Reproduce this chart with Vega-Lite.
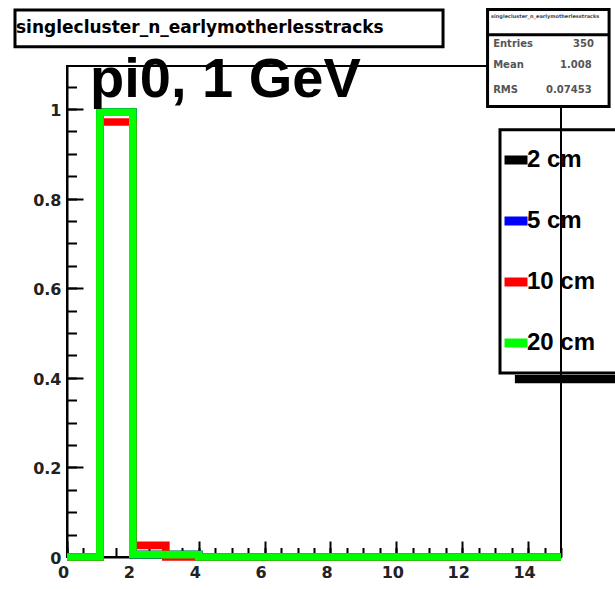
{
  "$schema": "https://vega.github.io/schema/vega-lite/v6.json",
  "width": 494,
  "height": 491,
  "autosize": {"type": "none"},
  "padding": {"left": 67, "top": 66, "right": 54, "bottom": 32},
  "background": "white",
  "view": {"stroke": "black", "strokeWidth": 2, "fill": null},
  "resolve": {"axis": {"x": "independent", "y": "independent"}},
  "layer": [
    {
      "data": {"values": [
        {"series": "2 cm", "x": 0, "v": 0}, {"series": "2 cm", "x": 1, "v": 0.993}, {"series": "2 cm", "x": 2, "v": 0.0055}, {"series": "2 cm", "x": 3, "v": 0.0055},
        {"series": "2 cm", "x": 4, "v": 0}, {"series": "2 cm", "x": 5, "v": 0}, {"series": "2 cm", "x": 6, "v": 0}, {"series": "2 cm", "x": 7, "v": 0},
        {"series": "2 cm", "x": 8, "v": 0}, {"series": "2 cm", "x": 9, "v": 0}, {"series": "2 cm", "x": 10, "v": 0}, {"series": "2 cm", "x": 11, "v": 0},
        {"series": "2 cm", "x": 12, "v": 0}, {"series": "2 cm", "x": 13, "v": 0}, {"series": "2 cm", "x": 14, "v": 0}, {"series": "2 cm", "x": 15, "v": 0},
        {"series": "5 cm", "x": 0, "v": 0}, {"series": "5 cm", "x": 1, "v": 0.993}, {"series": "5 cm", "x": 2, "v": 0.0055}, {"series": "5 cm", "x": 3, "v": 0.0055},
        {"series": "5 cm", "x": 4, "v": 0}, {"series": "5 cm", "x": 5, "v": 0}, {"series": "5 cm", "x": 6, "v": 0}, {"series": "5 cm", "x": 7, "v": 0},
        {"series": "5 cm", "x": 8, "v": 0}, {"series": "5 cm", "x": 9, "v": 0}, {"series": "5 cm", "x": 10, "v": 0}, {"series": "5 cm", "x": 11, "v": 0},
        {"series": "5 cm", "x": 12, "v": 0}, {"series": "5 cm", "x": 13, "v": 0}, {"series": "5 cm", "x": 14, "v": 0}, {"series": "5 cm", "x": 15, "v": 0},
        {"series": "10 cm", "x": 0, "v": 0}, {"series": "10 cm", "x": 1, "v": 0.971}, {"series": "10 cm", "x": 2, "v": 0.026}, {"series": "10 cm", "x": 3, "v": 0},
        {"series": "10 cm", "x": 4, "v": 0}, {"series": "10 cm", "x": 5, "v": 0}, {"series": "10 cm", "x": 6, "v": 0}, {"series": "10 cm", "x": 7, "v": 0},
        {"series": "10 cm", "x": 8, "v": 0}, {"series": "10 cm", "x": 9, "v": 0}, {"series": "10 cm", "x": 10, "v": 0}, {"series": "10 cm", "x": 11, "v": 0},
        {"series": "10 cm", "x": 12, "v": 0}, {"series": "10 cm", "x": 13, "v": 0}, {"series": "10 cm", "x": 14, "v": 0}, {"series": "10 cm", "x": 15, "v": 0},
        {"series": "20 cm", "x": 0, "v": 0}, {"series": "20 cm", "x": 1, "v": 0.993}, {"series": "20 cm", "x": 2, "v": 0.0055}, {"series": "20 cm", "x": 3, "v": 0.0055},
        {"series": "20 cm", "x": 4, "v": 0}, {"series": "20 cm", "x": 5, "v": 0}, {"series": "20 cm", "x": 6, "v": 0}, {"series": "20 cm", "x": 7, "v": 0},
        {"series": "20 cm", "x": 8, "v": 0}, {"series": "20 cm", "x": 9, "v": 0}, {"series": "20 cm", "x": 10, "v": 0}, {"series": "20 cm", "x": 11, "v": 0},
        {"series": "20 cm", "x": 12, "v": 0}, {"series": "20 cm", "x": 13, "v": 0}, {"series": "20 cm", "x": 14, "v": 0}, {"series": "20 cm", "x": 15, "v": 0}
      ]},
      "mark": {"type": "line", "interpolate": "step-after", "strokeWidth": 7.7, "strokeCap": "butt", "strokeJoin": "miter", "clip": false},
      "encoding": {
        "x": {"field": "x", "type": "quantitative",
          "scale": {"domain": [0, 15], "nice": false, "zero": false},
          "axis": {"orient": "bottom", "values": [0,0.5,1,1.5,2,2.5,3,3.5,4,4.5,5,5.5,6,6.5,7,7.5,8,8.5,9,9.5,10,10.5,11,11.5,12,12.5,13,13.5,14,14.5,15],
            "labels": false, "domain": false, "grid": false, "title": null, "tickSize": -9.5, "tickWidth": 2, "tickColor": "black"}},
        "y": {"field": "v", "type": "quantitative",
          "scale": {"domain": [0, 1.096], "nice": false, "zero": false},
          "axis": {"orient": "left", "values": [0,0.05,0.1,0.15,0.2,0.25,0.3,0.35,0.4,0.45,0.5,0.55,0.6,0.65,0.7,0.75,0.8,0.85,0.9,0.95,1,1.05],
            "labels": false, "domain": false, "grid": false, "title": null, "tickSize": -9.5, "tickWidth": 2, "tickColor": "black"}},
        "color": {"field": "series", "type": "nominal",
          "scale": {"domain": ["2 cm", "5 cm", "10 cm", "20 cm"], "range": ["#000000", "#0000ff", "#ff0000", "#00ff00"]},
          "legend": {"orient": "none", "legendX": 433, "legendY": 64, "title": null,
            "symbolType": "stroke", "symbolStrokeWidth": 9, "symbolSize": 529,
            "labelFont": "Liberation Sans", "labelFontWeight": "bold", "labelFontSize": 24, "labelColor": "black",
            "padding": 14, "symbolOffset": -14, "labelOffset": -5, "rowPadding": 25,
            "labelLimit": 400}}
      }
    },
    {
      "data": {"values": [{}]},
      "mark": {"type": "rect", "fill": "black", "clip": false},
      "encoding": {
        "x": {"datum": 13.6, "type": "quantitative",
          "axis": {"orient": "bottom", "values": [0,2,4,6,8,10,12,14], "tickSize": -16, "tickWidth": 2, "tickColor": "black",
            "domain": true, "domainColor": "black", "domainWidth": 2, "grid": false, "title": null,
            "labelFont": "DejaVu Sans", "labelFontWeight": "bold", "labelFontSize": 16, "labelColor": "#222",
            "labelPadding": 23, "labelOffset": -4, "labelFlush": false, "labelBound": false, "labelOverlap": false}},
        "x2": {"datum": 17},
        "y": {"datum": 0.4063, "type": "quantitative",
          "axis": {"orient": "left", "values": [0,0.2,0.4,0.6,0.8,1], "format": "~g", "tickSize": -16, "tickWidth": 2, "tickColor": "black",
            "domain": true, "domainColor": "black", "domainWidth": 2, "grid": false, "title": null,
            "labelFont": "DejaVu Sans", "labelFontWeight": "bold", "labelFontSize": 16, "labelColor": "#222",
            "labelPadding": 22, "labelOffset": 1.5, "labelFlush": false, "labelBound": false, "labelOverlap": false}},
        "y2": {"datum": 0.3877}
      }
    },
    {
      "data": {"values": [{}]},
      "mark": {"type": "rect", "filled": false, "stroke": "black", "strokeWidth": 3, "clip": false},
      "encoding": {
        "x": {"datum": 13.148, "type": "quantitative", "axis": null}, "x2": {"datum": 17},
        "y": {"datum": 0.9538, "type": "quantitative", "axis": null}, "y2": {"datum": 0.4107}
      }
    },
    {
      "data": {"values": [{}]},
      "mark": {"type": "rect", "fill": "white", "stroke": "black", "strokeWidth": 3, "clip": false},
      "encoding": {
        "x": {"datum": -1.579, "type": "quantitative", "axis": null}, "x2": {"datum": 11.418},
        "y": {"datum": 1.221, "type": "quantitative", "axis": null}, "y2": {"datum": 1.139}
      }
    },
    {
      "data": {"values": [{}]},
      "mark": {"type": "text", "text": "singlecluster_n_earlymotherlesstracks", "font": "DejaVu Sans", "fontWeight": "bold", "fontSize": 17, "align": "left", "baseline": "alphabetic", "color": "black", "clip": false},
      "encoding": {"x": {"datum": -1.549, "type": "quantitative", "axis": null}, "y": {"datum": 1.169, "type": "quantitative", "axis": null}}
    },
    {
      "data": {"values": [{}]},
      "mark": {"type": "rect", "fill": "white", "stroke": "black", "strokeWidth": 3, "clip": false},
      "encoding": {
        "x": {"datum": 12.77, "type": "quantitative", "axis": null}, "x2": {"datum": 16.46},
        "y": {"datum": 1.2221, "type": "quantitative", "axis": null}, "y2": {"datum": 1.0056}
      }
    },
    {
      "data": {"values": [{}]},
      "mark": {"type": "rule", "stroke": "black", "strokeWidth": 3, "clip": false},
      "encoding": {
        "x": {"datum": 12.77, "type": "quantitative", "axis": null}, "x2": {"datum": 16.46},
        "y": {"datum": 1.1658, "type": "quantitative", "axis": null}
      }
    },
    {
      "data": {"values": [{}]},
      "mark": {"type": "text", "text": "singlecluster_n_earlymotherlesstracks", "font": "DejaVu Sans", "fontWeight": "bold", "fontSize": 5, "align": "center", "baseline": "alphabetic", "color": "#444", "clip": false},
      "encoding": {"x": {"datum": 14.52, "type": "quantitative", "axis": null}, "y": {"datum": 1.203, "type": "quantitative", "axis": null}}
    },
    {
      "data": {"values": [{}]},
      "mark": {"type": "text", "text": "Entries", "font": "DejaVu Sans", "fontWeight": "bold", "fontSize": 10, "align": "left", "baseline": "alphabetic", "color": "#555", "clip": false},
      "encoding": {"x": {"datum": 12.94, "type": "quantitative", "axis": null}, "y": {"datum": 1.1386, "type": "quantitative", "axis": null}}
    },
    {
      "data": {"values": [{}]},
      "mark": {"type": "text", "text": "350", "font": "DejaVu Sans", "fontWeight": "bold", "fontSize": 10, "align": "right", "baseline": "alphabetic", "color": "#555", "clip": false},
      "encoding": {"x": {"datum": 16.0, "type": "quantitative", "axis": null}, "y": {"datum": 1.1386, "type": "quantitative", "axis": null}}
    },
    {
      "data": {"values": [{}]},
      "mark": {"type": "text", "text": "Mean", "font": "DejaVu Sans", "fontWeight": "bold", "fontSize": 10, "align": "left", "baseline": "alphabetic", "color": "#555", "clip": false},
      "encoding": {"x": {"datum": 12.94, "type": "quantitative", "axis": null}, "y": {"datum": 1.0908, "type": "quantitative", "axis": null}}
    },
    {
      "data": {"values": [{}]},
      "mark": {"type": "text", "text": "1.008", "font": "DejaVu Sans", "fontWeight": "bold", "fontSize": 10, "align": "right", "baseline": "alphabetic", "color": "#555", "clip": false},
      "encoding": {"x": {"datum": 15.93, "type": "quantitative", "axis": null}, "y": {"datum": 1.0908, "type": "quantitative", "axis": null}}
    },
    {
      "data": {"values": [{}]},
      "mark": {"type": "text", "text": "RMS", "font": "DejaVu Sans", "fontWeight": "bold", "fontSize": 10, "align": "left", "baseline": "alphabetic", "color": "#555", "clip": false},
      "encoding": {"x": {"datum": 12.94, "type": "quantitative", "axis": null}, "y": {"datum": 1.035, "type": "quantitative", "axis": null}}
    },
    {
      "data": {"values": [{}]},
      "mark": {"type": "text", "text": "0.07453", "font": "DejaVu Sans", "fontWeight": "bold", "fontSize": 10, "align": "right", "baseline": "alphabetic", "color": "#555", "clip": false},
      "encoding": {"x": {"datum": 15.93, "type": "quantitative", "axis": null}, "y": {"datum": 1.035, "type": "quantitative", "axis": null}}
    },
    {
      "data": {"values": [{}]},
      "mark": {"type": "text", "text": "pi0, 1 GeV", "font": "Liberation Sans", "fontWeight": "bold", "fontSize": 56, "align": "left", "baseline": "alphabetic", "color": "black", "clip": false},
      "encoding": {"x": {"datum": 0.698, "type": "quantitative", "axis": null}, "y": {"datum": 1.0275, "type": "quantitative", "axis": null}}
    }
  ]
}
